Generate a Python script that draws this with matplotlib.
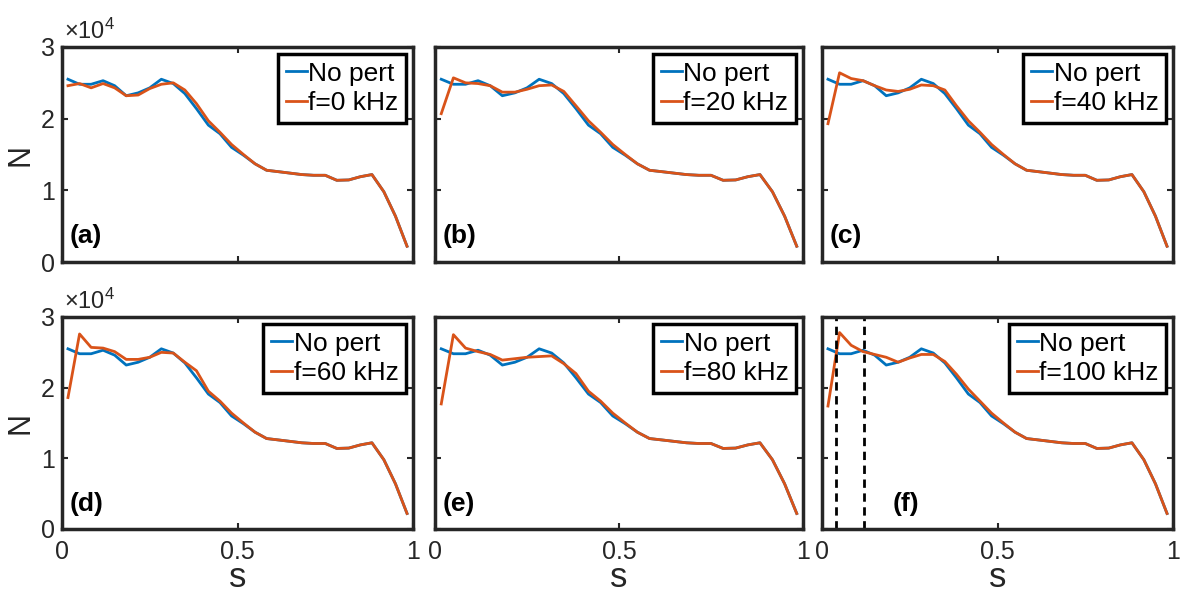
import numpy as np
import matplotlib.pyplot as plt
from matplotlib.ticker import FuncFormatter

plt.rcParams['font.family'] = ['Liberation Sans', 'DejaVu Sans']
plt.rcParams['mathtext.fontset'] = 'custom'
plt.rcParams['mathtext.rm'] = 'Liberation Sans'
plt.rcParams['mathtext.it'] = 'Liberation Sans:italic'

# normalised coordinate s (30 bins)
s = [0.017, 0.050, 0.083, 0.117, 0.150, 0.183, 0.217, 0.250, 0.283, 0.317,
     0.350, 0.383, 0.417, 0.450, 0.483, 0.517, 0.550, 0.583, 0.617, 0.650,
     0.683, 0.717, 0.750, 0.783, 0.817, 0.850, 0.883, 0.917, 0.950, 0.983]

# common tail (s >= 0.55), identical for every case
tail = [13700, 12800, 12600, 12400, 12200, 12100, 12100, 11400, 11450, 11900,
        12200, 9800, 6400, 2200]

no_pert = [25500, 24800, 24800, 25300, 24600, 23200, 23600, 24300, 25500, 24900,
           23500, 21400, 19100, 17900, 16000, 14900] + tail

f0 = [24600, 24900, 24300, 24900, 24300, 23200, 23300, 24200, 24800, 25000,
      24000, 22100, 19700, 18100, 16400, 15000] + tail
f20 = [20700, 25700, 25000, 24900, 24600, 23700, 23700, 24100, 24600, 24700,
       23800, 21800, 19700, 18100, 16400, 15000] + tail
f40 = [19300, 26400, 25600, 25300, 24600, 24000, 23800, 24100, 24700, 24600,
       24000, 21800, 19700, 18100, 16400, 15000] + tail
f60 = [18600, 27600, 25700, 25600, 25100, 24000, 24000, 24300, 25000, 24900,
       23600, 22400, 19500, 18100, 16400, 15000] + tail
f80 = [17700, 27500, 25600, 25100, 24700, 23900, 24100, 24300, 24400, 24500,
       23400, 22000, 19500, 18100, 16400, 15000] + tail
f100 = [17400, 27800, 26000, 25100, 24700, 24300, 23600, 24200, 24700, 24700,
        23700, 21900, 19800, 18100, 16400, 15000] + tail

cases = [f0, f20, f40, f60, f80, f100]
freqs = [0, 20, 40, 60, 80, 100]
tags = ['(a)', '(b)', '(c)', '(d)', '(e)', '(f)']
marks_f = [0.04, 0.12]

blue = '#0072BD'
orange = '#D95319'
edge = '#262626'

W, H = 1182, 592
fig = plt.figure(figsize=(W / 100, H / 100), dpi=100)

lefts = [62, 435, 822]
widths = [351, 368, 351]
rows = [(47, 262), (317, 529)]

for k in range(6):
    r, c = divmod(k, 3)
    top, bot = rows[r]
    ax = fig.add_axes([lefts[c] / W, 1 - bot / H, widths[c] / W, (bot - top) / H])
    ax.plot(s, no_pert, color=blue, lw=2, label='No pert')
    ax.plot(s, cases[k], color=orange, lw=2, label='f=%d kHz' % freqs[k])
    ax.set_xlim(0, 1)
    ax.set_ylim(0, 30000)
    ax.set_xticks([0, 0.5, 1])
    ax.set_yticks([0, 10000, 20000, 30000])
    ax.tick_params(direction='in', length=4, width=1.5, top=True, right=True,
                   labelsize=18, colors=edge)
    ax.tick_params(axis='x', pad=8)
    ax.tick_params(axis='y', pad=5)
    for sp in ax.spines.values():
        sp.set_linewidth(2.5)
        sp.set_color(edge)
    ax.xaxis.set_major_formatter(FuncFormatter(lambda v, p: '%g' % v))
    ax.yaxis.set_major_formatter(FuncFormatter(lambda v, p: '%d' % (v / 10000)))
    if c == 0:
        ax.set_ylabel('N', fontsize=22, color=edge, labelpad=4)
        ax.text(0.005, 1.015, r'$\times10^{4}$', transform=ax.transAxes,
                fontsize=17, color=edge, ha='left', va='bottom')
    else:
        ax.set_yticklabels([])
    if r == 0:
        ax.set_xticklabels([])
    else:
        ax.set_xlabel('s', fontsize=25, color=edge, labelpad=-2)
    # panel tag; in (f) it sits right of the dashed markers
    if k == 5:
        for xv in marks_f:
            ax.axvline(xv, color='k', lw=2, ls=(0, (3, 2)))
        tx = 0.2
    else:
        tx = 0.022
    ax.text(tx, 0.12, tags[k], transform=ax.transAxes, fontsize=19,
            fontweight='bold', va='center', ha='left')
    leg = ax.legend(loc='upper right', fontsize=19, handlelength=0.8,
                    handletextpad=0.05, borderpad=0.3, labelspacing=0.2,
                    borderaxespad=0.25, fancybox=False, framealpha=1)
    leg.get_frame().set_edgecolor('k')
    leg.get_frame().set_linewidth(2.5)

fig.savefig('out.png', dpi=100)
